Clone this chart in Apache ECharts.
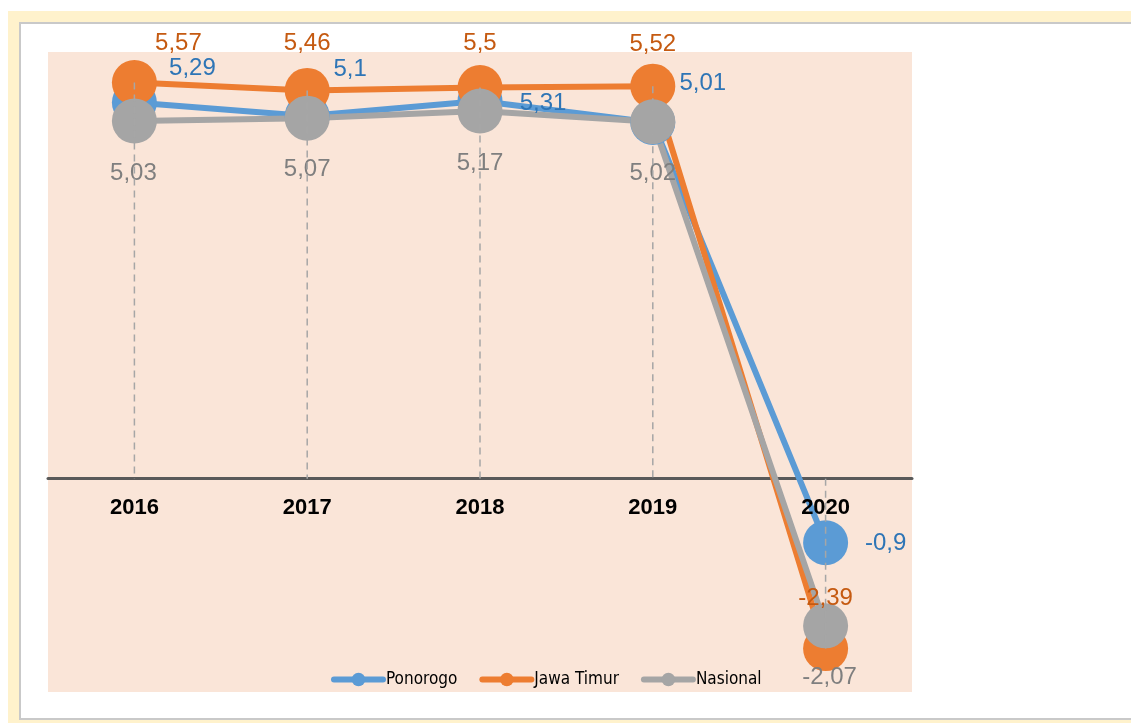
<!DOCTYPE html>
<html>
<head>
<meta charset="utf-8">
<script src="https://cdn.jsdelivr.net/npm/echarts@6/dist/echarts.min.js"></script>
<style>
  html, body { margin: 0; padding: 0; background: #fff; }
  .frame { position: absolute; left: 8px; top: 11px; width: 1200px; height: 740px; background: #FFF2CC; }
  .panel { position: absolute; left: 19px; top: 22px; width: 1200px; height: 694px; background: #fff; border: 2px solid #C9C9C9; }
  #chart { position: absolute; left: 0; top: 0; width: 1131px; height: 723px; }
</style>
</head>
<body>
<div class="frame"></div>
<div class="panel"></div>
<div id="chart"></div>
<script>
var years = ['2016', '2017', '2018', '2019', '2020']
var ponorogo = [5.29, 5.1, 5.31, 5.01, -0.9]
var jawaTimur = [5.57, 5.46, 5.5, 5.52, -2.39]
var nasional = [5.03, 5.07, 5.17, 5.02, -2.07]

// label placement relative to the marker centre (px)
var blueOffsets = [[58, -34], [43, -47], [63, 2], [50, -39], [60, 1]]
var orangeOffsets = [[44, -39], [0, -47], [0, -44], [0, -42], [0, -50]]
var grayOffsets = [[-1, 52], [0, 51], [0, 52], [0, 52], [4, 52]]

var fontMain = '"Liberation Sans", Arial, sans-serif'

function fmt (v) {
  return String(v).replace('.', ',')
}

function withLabels (values, offsets, color) {
  return values.map(function (v, i) {
    return {
      value: v,
      label: {
        show: true,
        position: 'inside',
        offset: offsets[i],
        color: color,
        fontSize: 24,
        fontFamily: fontMain,
        formatter: function (p) { return fmt(p.value) }
      }
    }
  })
}

// drop lines: from the highest point to the lowest, always touching zero
var dropData = years.map(function (y, i) {
  var vals = [ponorogo[i], jawaTimur[i], nasional[i]]
  var hi = Math.max(0, Math.max.apply(null, vals))
  var lo = Math.min(0, Math.min.apply(null, vals))
  return [i, hi, lo]
})

function lineSeries (name, values, offsets, color, labelColor) {
  return {
    name: name,
    type: 'line',
    data: withLabels(values, offsets, labelColor),
    symbol: 'circle',
    symbolSize: 45,
    showSymbol: true,
    lineStyle: { color: color, width: 6, cap: 'round', join: 'round' },
    itemStyle: { color: color },
    emphasis: { disabled: true },
    z: 3
  }
}

var myChart = echarts.init(document.getElementById('chart'), null, { renderer: 'canvas' })
var option = {
  animation: false,
  backgroundColor: 'transparent',
  grid: {
    left: 48,
    right: 219,
    top: 52,
    bottom: 31,
    show: true,
    backgroundColor: '#FAE5D8',
    borderWidth: 0,
    outerBoundsMode: 'none'
  },
  legend: {
    left: 331,
    top: 671,
    padding: 0,
    itemWidth: 49,
    itemHeight: 17,
    itemGap: 22,
    lineStyle: { width: 6, cap: 'round' },
    textStyle: {
      color: '#000',
      fontSize: 17,
      fontFamily: '"DejaVu Sans Condensed", "Liberation Sans Narrow", sans-serif',
      padding: [0, 0, 0, -2]
    },
    data: ['Ponorogo', 'Jawa Timur', 'Nasional']
  },
  xAxis: {
    type: 'category',
    data: years,
    boundaryGap: true,
    axisLine: { show: true, onZero: true, lineStyle: { color: '#595959', width: 3 } },
    axisTick: { show: false },
    splitLine: { show: false },
    axisLabel: { show: false }
  },
  yAxis: {
    type: 'value',
    min: -3,
    max: 6,
    show: false,
    splitLine: { show: false }
  },
  series: [
    lineSeries('Ponorogo', ponorogo, blueOffsets, '#5B9BD5', '#2E75B6'),
    lineSeries('Jawa Timur', jawaTimur, orangeOffsets, '#ED7D31', '#C55A11'),
    lineSeries('Nasional', nasional, grayOffsets, '#A5A5A5', '#7F7F7F'),
    {
      type: 'custom',
      silent: true,
      z: 10,
      data: dropData,
      renderItem: function (params, api) {
        var top = api.coord([api.value(0), api.value(1)])
        var bottom = api.coord([api.value(0), api.value(2)])
        return {
          type: 'line',
          shape: { x1: top[0], y1: top[1], x2: bottom[0], y2: bottom[1] },
          style: { stroke: '#A6A6A6', lineWidth: 1.5, lineDash: [7, 5] }
        }
      }
    },
    {
      // category labels sitting just under the zero line
      type: 'custom',
      silent: true,
      z: 11,
      data: years.map(function (y, i) { return [i, 0] }),
      renderItem: function (params, api) {
        var p = api.coord([api.value(0), 0])
        return {
          type: 'text',
          x: p[0],
          y: p[1] + 29,
          style: {
            text: years[params.dataIndex],
            fill: '#000',
            font: 'bold 22px "Liberation Sans", Arial, sans-serif',
            align: 'center',
            verticalAlign: 'middle'
          }
        }
      }
    }
  ]
}
myChart.setOption(option)
</script>
</body>
</html>
